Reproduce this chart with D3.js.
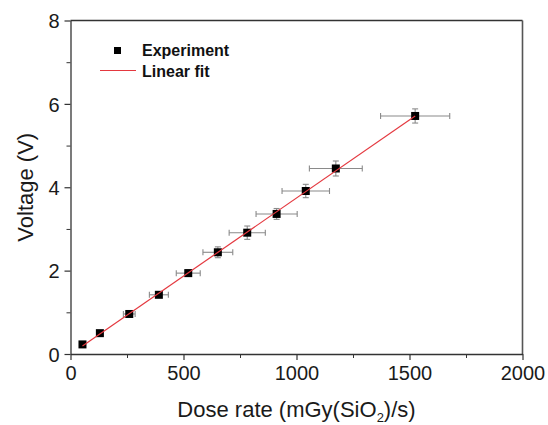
<!DOCTYPE html>
<html>
<head>
<meta charset="utf-8">
<script src="https://cdn.jsdelivr.net/npm/d3@7"></script>
<style>
  html, body { margin: 0; padding: 0; background: #fff; }
  svg { display: block; font-family: "Liberation Sans", Arial, sans-serif; }
</style>
</head>
<body>
<svg id="chart" width="548" height="425"></svg>
<script>
// Data
const doseRate   = [53, 130, 260, 391, 521, 652, 782, 912, 1041, 1174, 1525];
const voltage    = [0.23, 0.50, 0.96, 1.42, 1.94, 2.44, 2.91, 3.36, 3.91, 4.45, 5.71];
const doseErr    = [5, 13, 26, 42, 53, 66, 80, 91, 105, 117, 153];
const voltErr    = [0.02, 0.03, 0.05, 0.06, 0.08, 0.13, 0.16, 0.13, 0.16, 0.18, 0.17];
const xTicks     = [0, 500, 1000, 1500, 2000];
const xMinor     = [250, 750, 1250, 1750];
const yTicks     = [0, 2, 4, 6, 8];
const yMinor     = [1, 3, 5, 7];
const legendLabels = ["Experiment", "Linear fit"];

// Linear fit (least squares) over the experimental points
const n = doseRate.length;
const mx = d3.mean(doseRate), my = d3.mean(voltage);
let sxy = 0, sxx = 0;
for (let i = 0; i < n; i++) { sxy += (doseRate[i]-mx)*(voltage[i]-my); sxx += (doseRate[i]-mx)**2; }
const slope = sxy / sxx, intercept = my - slope * mx;
const fitX = [d3.min(doseRate), d3.max(doseRate)];

const svg = d3.select("#chart");
const pL = 70.5, pR = 522.5, pT = 20.5, pB = 354;
const x = d3.scaleLinear().domain([0, 2000]).range([pL, pR]);
const y = d3.scaleLinear().domain([0, 8]).range([pB, pT]);

const axisColor = "#333";

// Frame (top and right)
svg.append("line").attr("x1", pL).attr("x2", pR).attr("y1", pT).attr("y2", pT)
  .attr("stroke", axisColor).attr("stroke-width", 1.3);
svg.append("line").attr("x1", pR).attr("x2", pR).attr("y1", pT).attr("y2", pB)
  .attr("stroke", "#555").attr("stroke-width", 1.6);

// Minor ticks
svg.append("g").attr("transform", `translate(0,${pB})`)
  .call(d3.axisBottom(x).tickValues(xMinor).tickSize(4).tickFormat(""))
  .call(g => g.select(".domain").remove())
  .call(g => g.selectAll("line").attr("stroke", axisColor).attr("stroke-width", 1));
svg.append("g").attr("transform", `translate(${pL},0)`)
  .call(d3.axisLeft(y).tickValues(yMinor).tickSize(4).tickFormat(""))
  .call(g => g.select(".domain").remove())
  .call(g => g.selectAll("line").attr("stroke", axisColor).attr("stroke-width", 1));

// Major axes
const xAxis = svg.append("g").attr("transform", `translate(0,${pB})`)
  .call(d3.axisBottom(x).tickValues(xTicks).tickSize(6).tickSizeOuter(0).tickPadding(6).tickFormat(d3.format("d")));
const yAxis = svg.append("g").attr("transform", `translate(${pL},0)`)
  .call(d3.axisLeft(y).tickValues(yTicks).tickSize(6).tickSizeOuter(0).tickPadding(5).tickFormat(d3.format("d")));
[xAxis, yAxis].forEach(g => {
  g.select(".domain").attr("stroke", axisColor).attr("stroke-width", 1.3);
  g.selectAll(".tick line").attr("stroke", axisColor).attr("stroke-width", 1.2);
  g.selectAll(".tick text").attr("fill", "#1a1a1a").style("font-size", "20px")
    .style("font-family", "'Liberation Sans', Arial, sans-serif");
});
yAxis.selectAll(".tick text").attr("dy", "0.36em");

// Error bars
const errColor = "#8a8a8a";
const eb = svg.append("g").attr("stroke", errColor).attr("stroke-width", 1.1);
doseRate.forEach((d, i) => {
  const cx = x(d), cy = y(voltage[i]);
  const x0 = x(d - doseErr[i]), x1 = x(d + doseErr[i]);
  const y0 = y(voltage[i] - voltErr[i]), y1 = y(voltage[i] + voltErr[i]);
  eb.append("line").attr("x1", x0).attr("x2", x1).attr("y1", cy).attr("y2", cy);
  eb.append("line").attr("x1", x0).attr("x2", x0).attr("y1", cy - 3).attr("y2", cy + 3);
  eb.append("line").attr("x1", x1).attr("x2", x1).attr("y1", cy - 3).attr("y2", cy + 3);
  eb.append("line").attr("x1", cx).attr("x2", cx).attr("y1", y0).attr("y2", y1);
  eb.append("line").attr("x1", cx - 3).attr("x2", cx + 3).attr("y1", y0).attr("y2", y0);
  eb.append("line").attr("x1", cx - 3).attr("x2", cx + 3).attr("y1", y1).attr("y2", y1);
});

// Markers
const ms = 8;
svg.append("g").selectAll("rect").data(doseRate).join("rect")
  .attr("x", d => x(d) - ms/2)
  .attr("y", (d, i) => y(voltage[i]) - ms/2)
  .attr("width", ms).attr("height", ms)
  .attr("fill", "#000");

// Fit line
const fitColor = "#e4383f";
svg.append("path")
  .datum(fitX)
  .attr("d", d3.line().x(d => x(d)).y(d => y(intercept + slope * d)))
  .attr("stroke", fitColor).attr("stroke-width", 1.2).attr("fill", "none");

// Legend
const lg = svg.append("g");
lg.append("rect").attr("x", 114).attr("y", 47).attr("width", 7).attr("height", 7).attr("fill", "#000");
lg.append("text").attr("x", 142).attr("y", 56).text(legendLabels[0])
  .style("font-size", "16px").style("font-weight", "bold").attr("fill", "#111");
lg.append("line").attr("x1", 100).attr("x2", 136).attr("y1", 70.5).attr("y2", 70.5)
  .attr("stroke", fitColor).attr("stroke-width", 1.2);
lg.append("text").attr("x", 142).attr("y", 76.5).text(legendLabels[1])
  .style("font-size", "16px").style("font-weight", "bold").attr("fill", "#111");

// Axis titles
const xt = svg.append("text").attr("x", (pL + pR) / 2).attr("y", 417)
  .attr("text-anchor", "middle").style("font-size", "22px").attr("fill", "#1a1a1a");
xt.append("tspan").text("Dose rate (mGy(SiO");
xt.append("tspan").text("2").style("font-size", "13px").attr("dy", "5");
xt.append("tspan").text(")/s)").attr("dy", "-5");

svg.append("text")
  .attr("transform", `translate(33,${(pT + pB) / 2}) rotate(-90)`)
  .attr("text-anchor", "middle").style("font-size", "22px").attr("fill", "#1a1a1a")
  .text("Voltage (V)");
</script>
</body>
</html>
